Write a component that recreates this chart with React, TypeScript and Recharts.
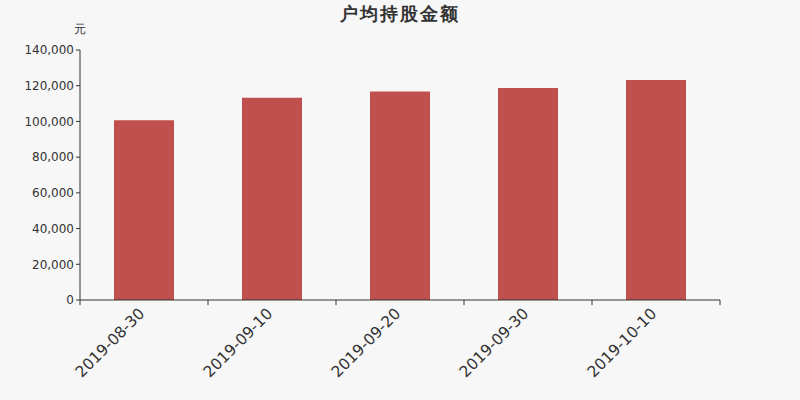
import { BarChart, Bar, XAxis, YAxis } from 'recharts'

const dates = ['2019-08-30', '2019-09-10', '2019-09-20', '2019-09-30', '2019-10-10']
const avgHolding = [100600, 113300, 116800, 118700, 123200]
const yTicks = [0, 20000, 40000, 60000, 80000, 100000, 120000, 140000]

const data = dates.map((date, i) => ({ date, value: avgHolding[i] }))

const FONT = '"DejaVu Sans", sans-serif'

function DateTick(props: any) {
  const { x, y, payload, index } = props
  const half = payload.offset || 0
  const tx = x - 2
  const ty = y + 3
  return (
    <g>
      <line x1={x - half} y1={y - 8} x2={x - half} y2={y - 3} stroke="#333" />
      {index === dates.length - 1 && (
        <line x1={x + half} y1={y - 8} x2={x + half} y2={y - 3} stroke="#333" />
      )}
      <text
        x={tx}
        y={ty}
        textAnchor="end"
        fontSize={15.5}
        fill="#333"
        fontFamily={FONT}
        transform={`rotate(-45, ${tx}, ${ty})`}
        dominantBaseline="central"
      >
        {payload.value}
      </text>
    </g>
  )
}

export default function App() {
  return (
    <div style={{ position: 'absolute', left: 0, top: 0, width: 800, height: 400, background: '#f7f7f7', fontFamily: FONT }}>
      <div style={{ position: 'absolute', top: 2, left: 0, width: 800, textAlign: 'center', fontSize: 18, letterSpacing: 2, fontWeight: 'bold', color: '#333' }}>
        户均持股金额
      </div>
      <div style={{ position: 'absolute', left: 74, top: 21, fontSize: 12, color: '#333' }}>元</div>
      <BarChart
        width={800}
        height={400}
        data={data}
        margin={{ top: 50, right: 80, bottom: 0, left: 10 }}
        barSize={60}
      >
        <XAxis
          dataKey="date"
          height={100}
          axisLine={{ stroke: '#333' }}
          tickLine={false}
          tick={<DateTick />}
          interval={0}
        />
        <YAxis
          width={70}
          domain={[0, 140000]}
          ticks={yTicks}
          tickFormatter={(v: number) => v.toLocaleString('en-US')}
          axisLine={{ stroke: '#333' }}
          tickLine={{ stroke: '#333' }}
          tickSize={4}
          tick={{ fontSize: 12, fill: '#333', fontFamily: FONT }}
        />
        <Bar dataKey="value" fill="#c0504d" isAnimationActive={false} />
      </BarChart>
    </div>
  )
}
